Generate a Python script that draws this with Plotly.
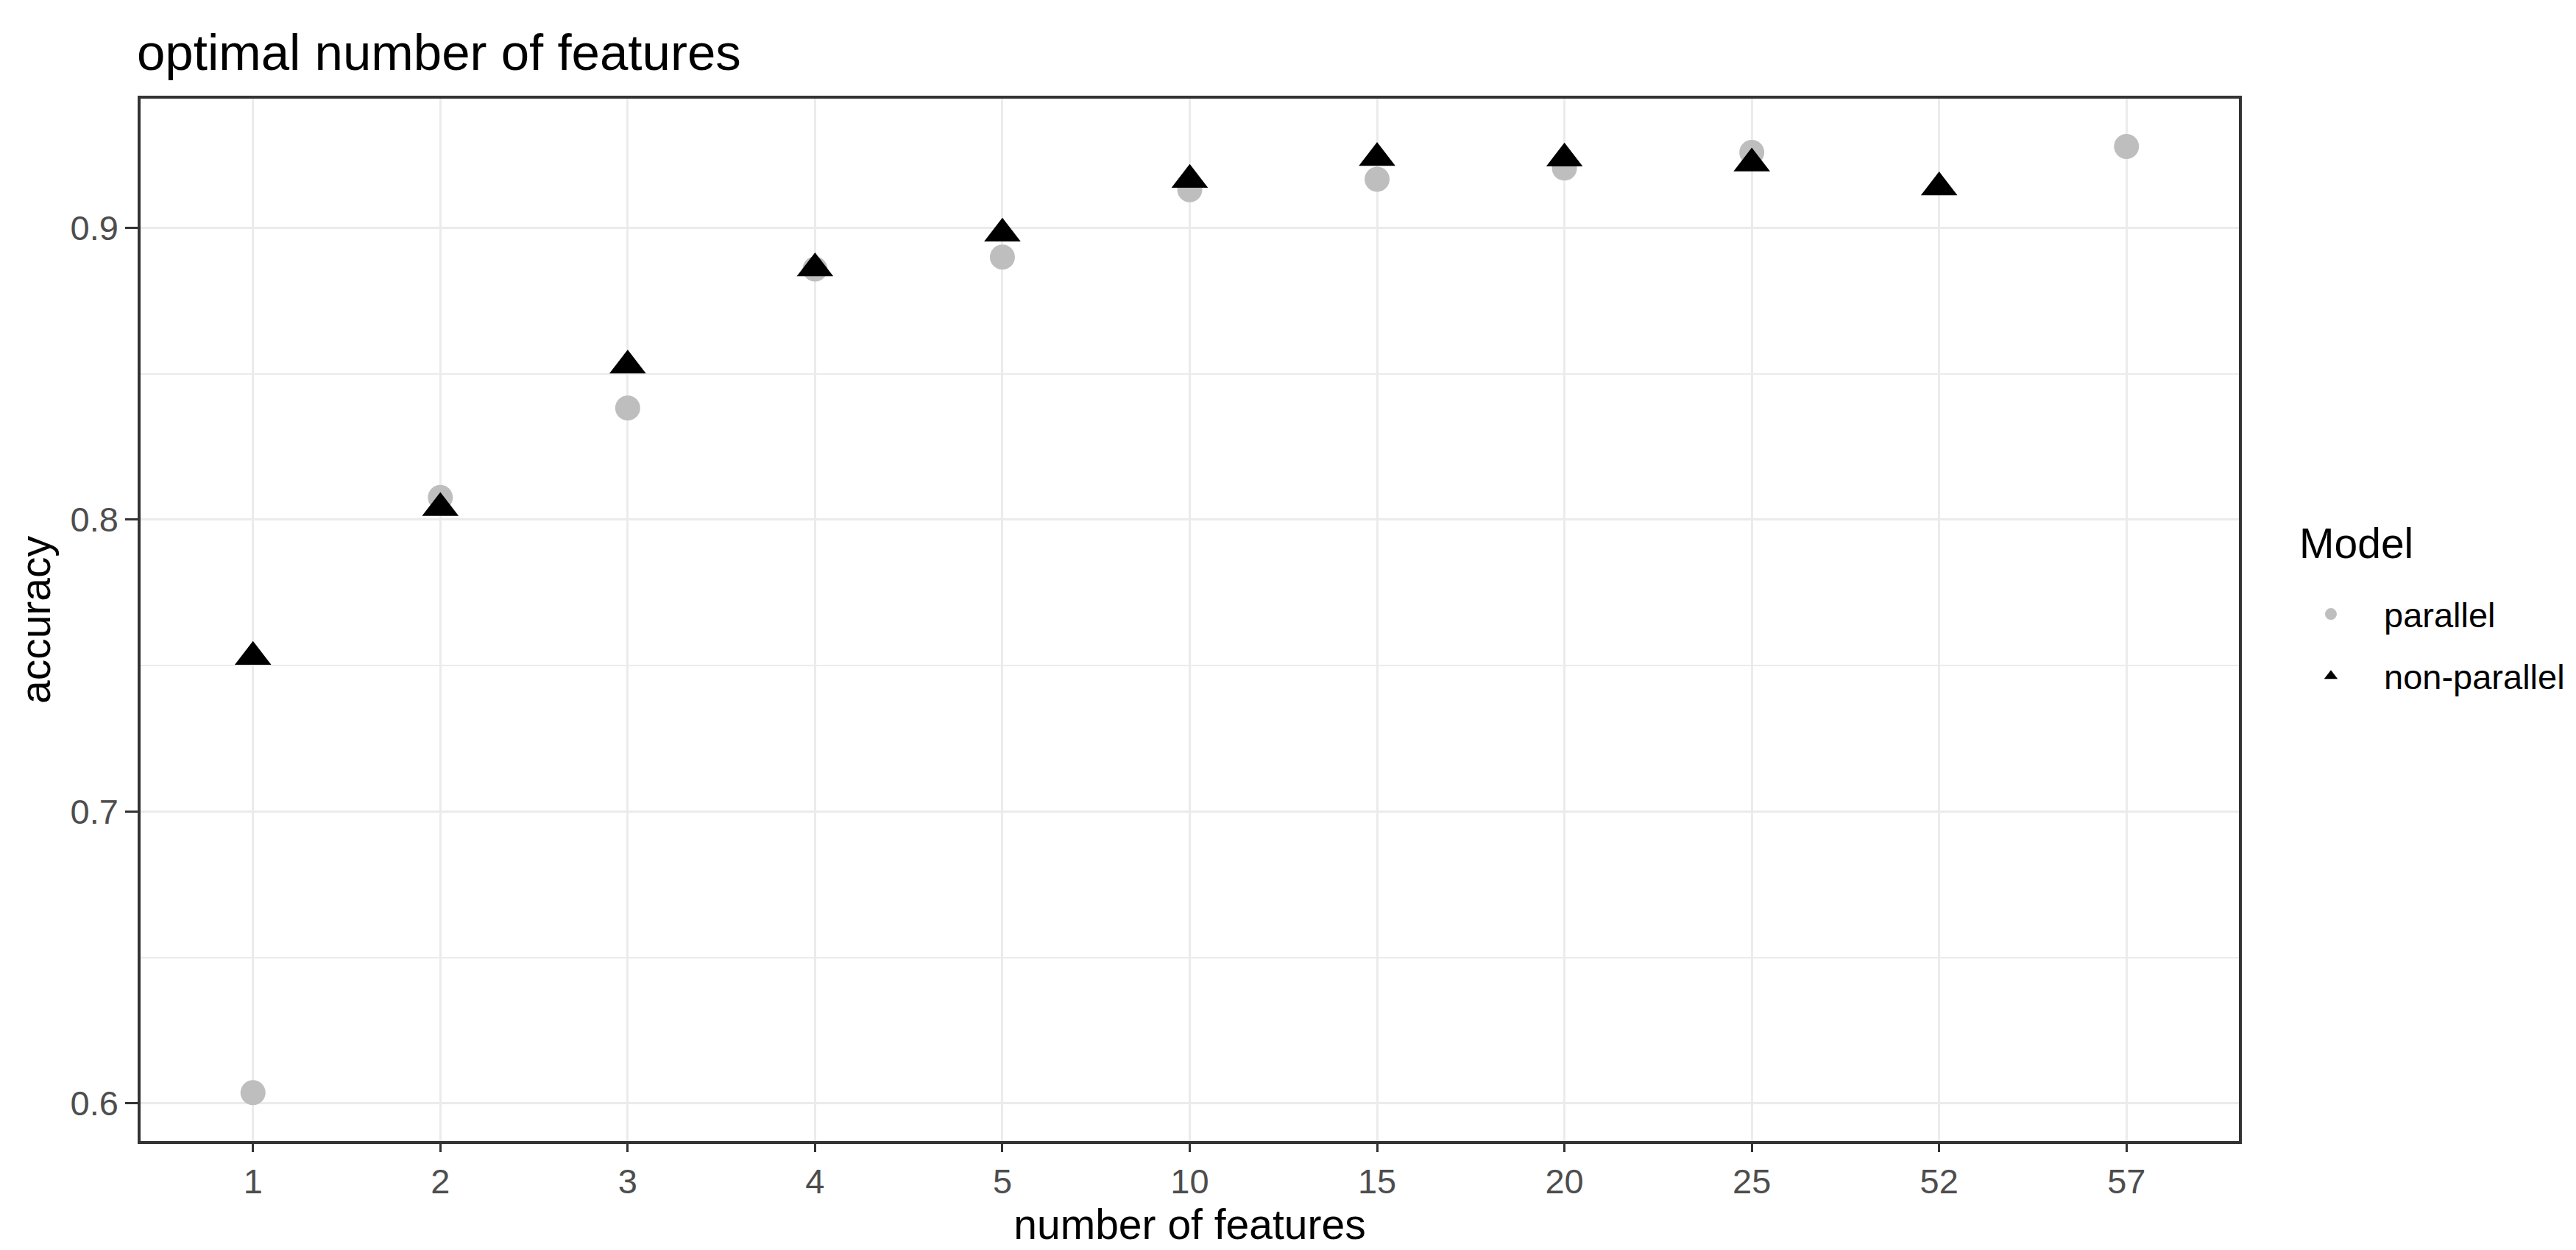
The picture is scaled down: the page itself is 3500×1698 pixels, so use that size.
import plotly.graph_objects as go

# ---- data ----
features = ["1", "2", "3", "4", "5", "10", "15", "20", "25", "52", "57"]

parallel_x = ["1", "2", "3", "4", "5", "10", "15", "20", "25", "57"]
parallel_acc = [0.6037, 0.8076, 0.8382, 0.8858, 0.8899, 0.9130, 0.9166, 0.9204, 0.9258, 0.9278]

nonparallel_x = ["1", "2", "3", "4", "5", "10", "15", "20", "25", "52"]
nonparallel_acc = [0.7530, 0.8040, 0.8528, 0.8861, 0.8980, 0.9164, 0.9239, 0.9237, 0.9220, 0.9138]

y_ticks = [0.6, 0.7, 0.8, 0.9]

FONT = "Liberation Sans, Arial, sans-serif"
W, H = 3500, 1698
L, R, T, B = 183, 3500 - 3034, 126, 1698 - 1542
PW, PH = W - L - R, H - T - B


def px_x(X):
    return (X - L) / PW


def px_y(Y):
    return (H - B - Y) / PH


fig = go.Figure()
fig.add_trace(go.Scatter(
    x=parallel_x, y=parallel_acc, mode="markers", name="parallel",
    legendgroup="a",
    marker=dict(symbol="circle", size=34, color="#BEBEBE", line=dict(width=0)),
))
fig.add_trace(go.Scatter(
    x=nonparallel_x, y=nonparallel_acc, mode="markers", name="non-parallel",
    legendgroup="b",
    marker=dict(symbol="triangle-up", size=43, color="#000000", line=dict(width=0)),
))

axis_common = dict(
    automargin=False,
    showline=True, linecolor="#333333", linewidth=3.5, mirror=True,
    showgrid=True, gridcolor="#EBEBEB", gridwidth=2.5,
    zeroline=False, ticks="outside", tickcolor="#333333", tickwidth=2.5,
    tickfont=dict(family=FONT, size=47, color="#4D4D4D"),
)

fig.update_layout(
    width=W, height=H,
    margin=dict(l=L, r=R, t=T, b=B, autoexpand=False),
    paper_bgcolor="white", plot_bgcolor="white",
    font=dict(family=FONT, color="black"),
    title=dict(
        text="optimal number of features",
        font=dict(family=FONT, size=69, color="black"),
        xref="container", x=178 / W, xanchor="left",
        yref="container", y=1 - 63 / H, yanchor="middle",
        pad=dict(l=0, r=0, t=0, b=0),
    ),
    xaxis=dict(
        **axis_common,
        type="category", categoryorder="array", categoryarray=features,
        range=[-0.6, len(features) - 1 + 0.6],
        ticklen=11,
        title=dict(text="number of features", font=dict(family=FONT, size=57, color="black"), standoff=5),
    ),
    yaxis=dict(
        **axis_common,
        range=[0.5871, 0.9442],
        tickvals=y_ticks, ticktext=[f"{v:.1f}" for v in y_ticks],
        ticklen=17,
        minor=dict(tick0=0.05, dtick=0.1, showgrid=True, gridcolor="#EBEBEB", gridwidth=1.5, ticks=""),
        title=dict(text="accuracy", font=dict(family=FONT, size=57, color="black"), standoff=10),
    ),
    legend=dict(
        font=dict(family=FONT, size=47, color="black"),
        x=px_x(3087), xanchor="left", y=px_y(789), yanchor="top",
        bgcolor="rgba(0,0,0,0)", borderwidth=0,
        tracegroupgap=20, itemsizing="trace", itemwidth=134,
    ),
    annotations=[dict(
        text="Model", showarrow=False,
        font=dict(family=FONT, size=57, color="black"),
        xref="paper", yref="paper", x=px_x(3114), xanchor="left",
        y=px_y(730), yanchor="middle",
    )],
)

fig.write_html("out.html")
